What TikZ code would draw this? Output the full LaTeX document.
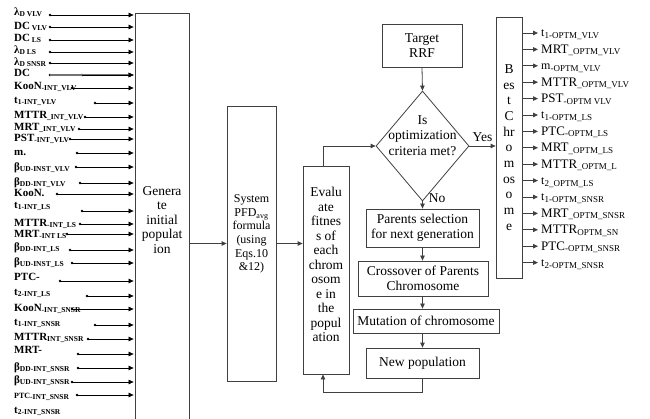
\documentclass[tikz,border=0pt]{standalone}
\usepackage{fontspec}
\setmainfont{Liberation Serif}
\usetikzlibrary{arrows.meta, shapes.geometric}

% bold input label: main text + lowered small index
\newcommand{\lb}[3][11]{{\fontsize{#1}{12}\selectfont\bfseries #2}\raisebox{-1.3pt}{\fontsize{7.5}{8}\selectfont\bfseries #3}}
% output label
\newcommand{\rb}[3][13]{{\fontsize{#1}{14}\selectfont #2}\raisebox{-1.5pt}{\fontsize{9}{10}\selectfont #3}}

\begin{document}
\begin{tikzpicture}[x=1pt, y=-1pt, >={Triangle[length=5pt, width=4.5pt]},
  box/.style={draw=black!75, line width=0.8pt, inner sep=1pt, align=center, font=\fontsize{13.5}{15}\selectfont},
  boxtxt/.style={align=center, inner sep=0pt, font=\fontsize{13.5}{14.5}\selectfont},
  flow/.style={draw=black!75, line width=0.8pt, ->},
  inarr/.style={draw=black, line width=0.7pt, ->, shorten >=1pt},
  inlbl/.style={anchor=base west, inner sep=0pt},
  outlbl/.style={anchor=base west, inner sep=0pt}]
  \useasboundingbox (0,0) rectangle (650,419);

  % main blocks
  \node[box, minimum width=54pt, minimum height=406pt,
    label={[boxtxt, yshift=-3.7pt]center:{Genera\\te\\initial\\populat\\ion}}] (gen) at (162,216) {};
  \node[box, minimum width=49pt, minimum height=275pt,
    label={[boxtxt, font=\fontsize{12}{13.6}\selectfont, yshift=9.5pt]center:{System\\PFD\textsubscript{avg}\\formula\\(using\\Eqs.10\\\&12)}}] (sys) at (251.5,243.5) {};
  \node[box, minimum width=46pt, minimum height=208pt,
    label={[boxtxt, yshift=5.3pt]center:{Evalu\\ate\\fitnes\\s of\\each\\chrom\\osom\\e in\\the\\popul\\ation}}] (eval) at (326,270) {};

  % GA loop
  \node[box, minimum width=80pt, minimum height=43pt] (rrf) at (422,45.5) {Target\\RRF};
  \node[diamond, draw=black!75, line width=0.8pt, inner sep=0pt, minimum width=93pt, minimum height=110pt,
    label={[boxtxt, font=\fontsize{13.5}{15.5}\selectfont, yshift=10.5pt]center:{Is\\optimization\\criteria met?}}] (crit) at (422.5,146) {};
  \node[box, minimum width=113pt, minimum height=38pt] (par) at (422.5,228) {Parents selection\\for next generation};
  \node[box, minimum width=130pt, minimum height=35pt] (cross) at (423,278.5) {Crossover of Parents\\Chromosome};
  \node[box, minimum width=146pt, minimum height=24pt] (mut) at (426,321) {Mutation of chromosome};
  \node[box, minimum width=113pt, minimum height=30pt] (newpop) at (422.5,363) {New population};
  \node[box, minimum width=26pt, minimum height=261pt, font=\fontsize{13.5}{15.7}\selectfont] (best) at (509,147.5)
    {B\\es\\t\\C\\hr\\o\\m\\os\\o\\m\\e};

  % connectors
  \draw[flow] (gen.east |- sys.west) -- (sys.west);
  \draw[flow] (sys.east) -- (sys.east -| eval.west);
  \draw[flow] (rrf.south) -- (crit.north);
  \draw[flow] (crit.east) -- (crit.east -| best.west)
    node[midway, above=4pt, inner sep=0pt, font=\fontsize{13.5}{15}\selectfont] (yes) {Yes};
  \draw[flow] (crit.south) -- (par.north)
    node[pos=0, right=6pt, yshift=3pt, inner sep=0pt, font=\fontsize{13.5}{15}\selectfont] (no) {No};
  \draw[flow] (par.south) -- (par.south |- cross.north);
  \draw[flow] (par.south |- cross.south) -- (par.south |- mut.north);
  \draw[flow] (newpop.north |- mut.south) -- (newpop.north);
  \draw[flow] (newpop.south) -- ++(0,14) -| ([xshift=-3pt]eval.south);
  \draw[flow] ([xshift=-3pt]eval.north) |- (crit.west);

  % inputs
  \foreach \n/\ly/\ay/\dx/\txt in {
    1/12/15/50/{\lb{λ}{D VLV}}, 2/26/27/50/{\lb{DC}{ VLV}}, 3/38/40/50/{\lb{DC}{ LS}},
    4/50/52/50/{\lb{λ}{D LS}}, 5/62/63/50/{\lb{λ}{D SNSR}}, 6/73/75/82/{\lb{DC}{}},
    7/86/88/72/{\lb{KooN}{-INT\_VLV}}, 8/100/103/95/{\lb{t}{1-INT\_VLV}}, 9/115/117/85/{\lb{MTTR}{\_INT\_VLV}},
    10/127/129/79/{\lb{MRT}{\_INT\_VLV}}, 11/138/139/70/{\lb{PST}{-INT\_VLV}}, 12/152/153/77/{\lb{m.}{}},
    13/167/167/76/{\lb{β}{UD-INST\_VLV}}, 14/182/183/80/{\lb{β}{DD-INT\_VLV}}, 15/193/194/57/{\lb{KooN.}{}},
    16/205/211/82/{\lb{t}{1-INT\_LS}}, 17/223/224/80/{\lb{MTTR}{-INT\_LS}}, 18/234/234/67/{\lb{MRT}{-INT LS}},
    19/247/250/70/{\lb{β}{DD-INT\_LS}}, 20/262/263/72/{\lb{β}{UD-INST\_LS}}, 21/277/281/60/{\lb{PTC-}{}},
    22/292/296/87/{\lb{t}{2-INT\_LS}}, 23/308/309/72/{\lb{KooN}{-INT\_SNSR}}, 24/322/325/95/{\lb{t}{1-INT\_SNSR}},
    25/337/339/88/{\lb{MTTR}{INT\_SNSR}}, 26/350/354/78/{\lb{MRT-}{}}, 27/367/368/78/{\lb{β}{DD-INT\_SNSR}},
    28/380/382/72/{\lb{β}{UD-INT\_SNSR}}, 29/395/395/77/{\lb[8]{PTC}{-INT\_SNSR}}} {
    \node[inlbl] (l\n) at (14,\ly+3.5) {\txt};
    \coordinate (d\n) at (\dx,\ay);
    \fill (d\n) circle (1.4pt);
    \draw[inarr] (d\n) -- (d\n -| gen.west);
  }
  \node[inlbl] (l30) at (14,413.5) {\lb{t}{2-INT\_SNSR}};
  % doubled DC line
  \coordinate (d6a) at (50,75);
  \fill (d6a) circle (1.4pt);
  \draw[black!55, line width=1.8pt] (d6a) -- ([xshift=-4pt]d6a -| gen.west);
  \draw[inarr] (d6) -- (d6 -| gen.west);

  % outputs
  \foreach \txt [count=\i] in {
    {\rb[12]{t}{1-OPTM\_VLV}}, {\rb{MRT}{\_OPTM\_VLV}}, {\rb[12]{m}{-OPTM\_VLV}},
    {\rb{MTTR}{\_OPTM\_VLV}}, {\rb{PST}{-OPTM VLV}}, {\rb[12]{t}{1-OPTM\_LS}},
    {\rb{PTC}{-OPTM\_LS}}, {\rb{MRT}{\_OPTM\_LS}}, {\rb{MTTR}{\_OPTM\_L}},
    {\rb[12]{t}{2\_OPTM\_LS}}, {\rb[12]{t}{1-OPTM\_SNSR}}, {\rb{MRT}{\_OPTM\_SNSR}},
    {\rb{MTTR}{OPTM\_SN}}, {\rb{PTC}{-OPTM\_SNSR}}, {\rb[12]{t}{2-OPTM\_SNSR}}} {
    \pgfmathsetmacro\oy{33+16.4*(\i-1)}
    \coordinate (a\i) at (538,\oy);
    \node[outlbl] (o\i) at (541,\oy+4) {\txt};
    \draw[flow] (best.east |- a\i) -- (a\i);
  }
\end{tikzpicture}
\end{document}
